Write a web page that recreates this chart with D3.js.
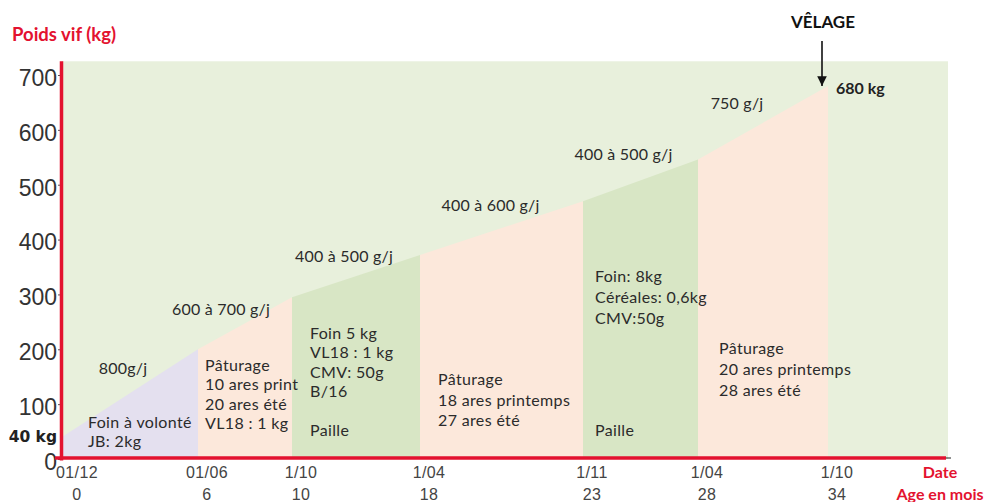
<!DOCTYPE html>
<html>
<head>
<meta charset="utf-8">
<script src="https://cdn.jsdelivr.net/npm/d3@7/dist/d3.min.js"></script>
<style>
  html, body { margin: 0; padding: 0; background: #fff; }
  svg { display: block; }
  .note { font-family: Lato, "Open Sans", sans-serif; font-size: 16px; letter-spacing: 0.35px; fill: #2b2b2b; }
  .gain { font-family: Lato, "Open Sans", sans-serif; font-size: 16px; letter-spacing: 0.2px; fill: #2b2b2b; }
  .tick-y { font-family: "Liberation Sans", Arial, sans-serif; font-size: 23px; fill: #333; }
  .tick-x { font-family: "Liberation Sans", Arial, sans-serif; font-size: 16px; letter-spacing: 0.4px; fill: #444; }
  .red-title { font-family: Lato, sans-serif; font-weight: bold; fill: #e3122f; }
</style>
</head>
<body>
<svg id="chart" width="986" height="502"></svg>
<script>
// Rearing stages of a heifer: age (months) at each stage boundary and live weight (kg)
const ages     = [0, 6, 10, 18, 23, 28, 34];
const weights  = [40, 200, 295, 372, 470, 546, 680];
const dateLabels = ["01/12", "01/06", "1/10", "1/04", "1/11", "1/04", "1/10"];
const ageLabels  = ["0", "6", "10", "18", "23", "28", "34"];
const gainLabels = ["800g/j", "600 à 700 g/j", "400 à 500 g/j", "400 à 600 g/j", "400 à 500 g/j", "750 g/j"];
const stageKinds = ["hay", "pasture", "barn", "pasture", "barn", "pasture"];
const stageNotes = [
  ["Foin à volonté", "JB: 2kg"],
  ["Pâturage", "10 ares print", "20 ares été", "VL18 : 1 kg"],
  ["Foin 5 kg", "VL18 : 1 kg", "CMV: 50g", "B/16"],
  ["Pâturage", "18 ares printemps", "27 ares été"],
  ["Foin: 8kg", "Céréales: 0,6kg", "CMV:50g"],
  ["Pâturage", "20 ares printemps", "28 ares été"]
];
const stageBedding = ["", "", "Paille", "", "Paille", ""];
const yTicks = [0, 100, 200, 300, 400, 500, 600, 700];
const endAge = 37;   // right edge of the plotting area
const yMax = 725;    // top edge of the plotting area

const svg = d3.select("#chart");

// The time axis is drawn as an irregular, piecewise scale between stage boundaries
const x = d3.scaleLinear()
  .domain([...ages, endAge])
  .range([62, 198, 292, 420, 583, 698, 828, 948]);
const y = d3.scaleLinear().domain([0, 700]).range([459, 75]);

const fills = { hay: "#e4e0ef", pasture: "#fce8db", barn: "#d8e6c5" };

// plotting background
svg.append("rect")
  .attr("x", x(0)).attr("y", y(yMax))
  .attr("width", x(endAge) - x(0)).attr("height", y(0) - y(yMax))
  .attr("fill", "#e8f0dc");

// one filled trapezoid per stage, topped by the weight curve
const stages = d3.range(ages.length - 1).map(i => ({
  a0: ages[i], a1: ages[i + 1], w0: weights[i], w1: weights[i + 1],
  kind: stageKinds[i], notes: stageNotes[i], bedding: stageBedding[i], gain: gainLabels[i]
}));

const area = d3.area().x(d => x(d[0])).y0(y(0)).y1(d => y(d[1]));
svg.selectAll("path.stage").data(stages).join("path")
  .attr("class", "stage")
  .attr("d", d => area([[d.a0, d.w0], [d.a1, d.w1]]))
  .attr("fill", d => fills[d.kind]);

// feeding notes inside each stage
const noteLayout = [
  { dx: 26, top: 424, lh: 19 }, { dx: 7, top: 367, lh: 19.4 }, { dx: 18, top: 335, lh: 19.4 },
  { dx: 18, top: 381, lh: 20.5 }, { dx: 12, top: 278, lh: 21 }, { dx: 21, top: 350, lh: 21 }
];
const beddingY = 432;
stages.forEach((s, i) => {
  const lx = x(s.a0) + noteLayout[i].dx;
  const t = svg.append("text").attr("class", "note")
    .attr("x", lx).attr("y", noteLayout[i].top)
    .attr("dominant-baseline", "middle");
  s.notes.forEach((line, j) => {
    t.append("tspan").attr("x", lx)
      .attr("y", noteLayout[i].top + j * noteLayout[i].lh).text(line);
  });
  if (s.bedding) {
    svg.append("text").attr("class", "note").attr("x", lx).attr("y", beddingY)
      .attr("dominant-baseline", "middle").text(s.bedding);
  }
});

// daily gain above each segment of the curve
const gainShift = [[-7, -23], [-24, -12], [-12, -18], [-11, -21], [-17, -24], [-26, -18]];
stages.forEach((s, i) => {
  const mx = (x(s.a0) + x(s.a1)) / 2, my = (y(s.w0) + y(s.w1)) / 2;
  svg.append("text").attr("class", "gain")
    .attr("x", mx + gainShift[i][0]).attr("y", my + gainShift[i][1])
    .attr("text-anchor", "middle").attr("dominant-baseline", "middle")
    .text(s.gain);
});

// y axis
const yAxis = svg.append("g").attr("transform", `translate(${x(0)},0)`)
  .call(d3.axisLeft(y).tickValues(yTicks).tickSize(4).tickPadding(1));
yAxis.select(".domain").remove();
yAxis.selectAll(".tick line").attr("stroke", "#555");
yAxis.selectAll(".tick text").attr("class", "tick-y").attr("font-size", null).attr("font-family", null)
  .attr("fill", null).attr("dy", "0.45em");
svg.append("line")
  .attr("x1", x(0) - 0.5).attr("x2", x(0) - 0.5)
  .attr("y1", y(yMax)).attr("y2", y(0) + 1.5)
  .attr("stroke", "#e3122f").attr("stroke-width", 3.5);

// x axis line
svg.append("line")
  .attr("x1", 55).attr("x2", x(endAge) - 2)
  .attr("y1", y(0) - 1).attr("y2", y(0) - 1)
  .attr("stroke", "#e3122f").attr("stroke-width", 3.5);
svg.append("line")
  .attr("x1", x(endAge) - 2).attr("x2", x(endAge) + 3)
  .attr("y1", y(0) - 1).attr("y2", y(0) - 1)
  .attr("stroke", "#222").attr("stroke-width", 1);

// date and age rows under the axis
ages.forEach((a, i) => {
  const cx = x(a) + (i === 0 ? 15 : 9);
  svg.append("text").attr("class", "tick-x").attr("x", cx).attr("y", 474)
    .attr("text-anchor", "middle").attr("dominant-baseline", "middle").text(dateLabels[i]);
  svg.append("text").attr("class", "tick-x").attr("x", cx).attr("y", 496)
    .attr("text-anchor", "middle").attr("dominant-baseline", "middle").text(ageLabels[i]);
});

// axis titles
svg.append("text").attr("class", "red-title").attr("x", 12).attr("y", 36)
  .attr("font-size", 18.5).attr("dominant-baseline", "middle").text("Poids vif (kg)");
svg.append("text").attr("class", "red-title").attr("x", 940).attr("y", 474)
  .attr("font-size", 16).attr("text-anchor", "middle").attr("dominant-baseline", "middle").text("Date");
svg.append("text").attr("class", "red-title").attr("x", 940).attr("y", 496)
  .attr("font-size", 16).attr("text-anchor", "middle").attr("dominant-baseline", "middle").text("Age en mois");

// starting weight
svg.append("text").attr("x", 57).attr("y", 437)
  .attr("text-anchor", "end").attr("dominant-baseline", "middle")
  .attr("font-family", "DejaVu Sans, sans-serif").attr("font-weight", "bold")
  .attr("font-size", 15.5).attr("fill", "#222").text(weights[0] + " kg");

// calving marker
const last = ages.length - 1;
const peakX = x(ages[last]) - 6, peakY = y(weights[last]);
svg.append("defs").append("marker")
  .attr("id", "arrowhead").attr("viewBox", "0 0 10 10")
  .attr("refX", 10).attr("refY", 5).attr("markerWidth", 6).attr("markerHeight", 6)
  .attr("orient", "auto")
  .append("path").attr("d", "M0,0 L10,5 L0,10 Z").attr("fill", "#111");
svg.append("line")
  .attr("x1", peakX).attr("x2", peakX).attr("y1", 41).attr("y2", peakY)
  .attr("stroke", "#111").attr("stroke-width", 1.6).attr("marker-end", "url(#arrowhead)");
svg.append("text").attr("x", peakX + 1).attr("y", 24)
  .attr("text-anchor", "middle").attr("dominant-baseline", "middle")
  .attr("font-family", "Lato, sans-serif").attr("font-weight", "bold")
  .attr("font-size", 17).attr("fill", "#111").text("VÊLAGE");
svg.append("text").attr("x", peakX + 14).attr("y", 90)
  .attr("dominant-baseline", "middle")
  .attr("font-family", "Lato, sans-serif").attr("font-weight", "bold")
  .attr("font-size", 16).attr("fill", "#222").text(weights[last] + " kg");
</script>
</body>
</html>
